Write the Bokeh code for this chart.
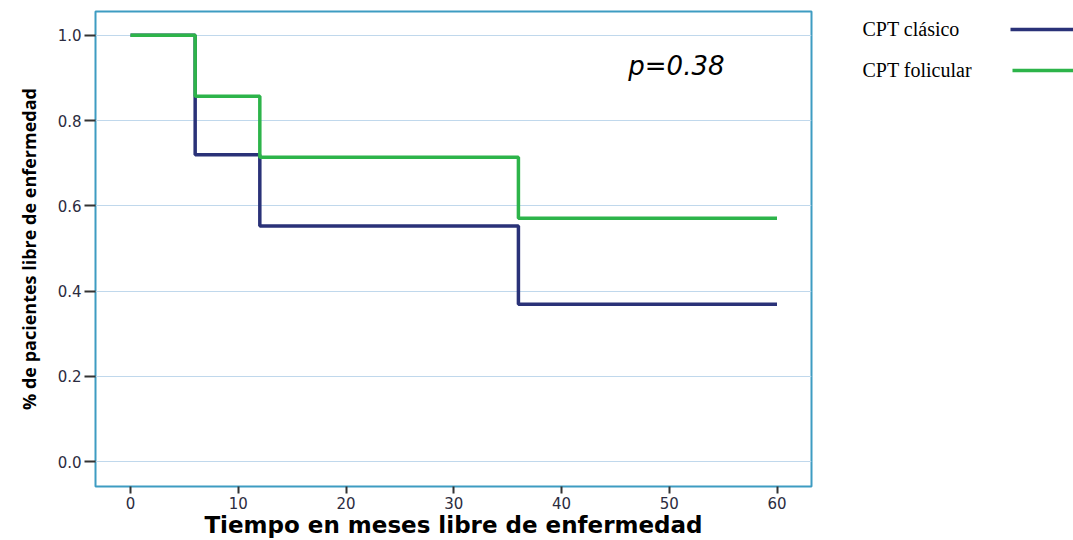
from bokeh.plotting import figure
from bokeh.layouts import row
from bokeh.models import Range1d, FixedTicker, PrintfTickFormatter, Label
from bokeh.core.properties import value
from bokeh.embed import file_html
from bokeh.resources import INLINE

# Data (Kaplan-Meier steps)
months = [0, 6, 12, 36, 60]
clasico = [1.0, 0.72, 0.553, 0.369, 0.369]
folicular = [1.0, 0.857, 0.714, 0.571, 0.571]
series_names = ["CPT clásico", "CPT folicular"]
series_colors = ["#2a3278", "#2db44a"]
x_ticks = [0, 10, 20, 30, 40, 50, 60]
y_ticks = [0.0, 0.2, 0.4, 0.6, 0.8, 1.0]
p_text = "p=0.38"

p = figure(width=818, height=540, output_backend="svg", toolbar_location=None,
           x_range=Range1d(-3.25, 63.2), y_range=Range1d(-0.0585, 1.056),
           min_border_left=95, min_border_right=7, min_border_top=11, min_border_bottom=54)

p.outline_line_color = "#3e9cc2"
p.outline_line_width = 2
p.outline_line_alpha = 1.0

p.xgrid.grid_line_color = None
p.ygrid.grid_line_color = "#c0d8ec"
p.ygrid.grid_line_width = 1
p.ygrid.ticker = FixedTicker(ticks=y_ticks)

p.xaxis.ticker = FixedTicker(ticks=x_ticks)
p.yaxis.ticker = FixedTicker(ticks=y_ticks)
p.yaxis.formatter = PrintfTickFormatter(format="%.1f")

for ax in (p.xaxis, p.yaxis):
    ax.axis_line_color = None
    ax.minor_tick_line_color = None
    ax.major_tick_line_color = "#333333"
    ax.major_tick_line_width = 2
    ax.major_tick_in = 0
    ax.major_label_text_font = "DejaVu Sans"
    ax.major_label_text_font_size = "15px"
    ax.major_label_text_color = "#2c2c40"

p.xaxis.major_tick_out = 7
p.yaxis.major_tick_out = 11
p.xaxis.major_label_standoff = 3
p.yaxis.major_label_standoff = 3

p.xaxis.axis_label = "Tiempo en meses libre de enfermedad"
p.xaxis.axis_label_text_font = "DejaVu Sans"
p.xaxis.axis_label_text_font_style = "bold"
p.xaxis.axis_label_text_font_size = "23px"
p.xaxis.axis_label_text_color = "black"
p.xaxis.axis_label_standoff = 0

p.yaxis.axis_label = "% de pacientes libre de enfermedad"
p.yaxis.axis_label_text_font = "Open Sans"
p.yaxis.axis_label_text_font_style = "bold"
p.yaxis.axis_label_text_font_size = "18px"
p.yaxis.axis_label_text_color = "black"
p.yaxis.axis_label_standoff = 14

p.step(months, clasico, mode="after", line_color=series_colors[0], line_width=3.5)
p.step(months, folicular, mode="after", line_color=series_colors[1], line_width=3.5)

p.add_layout(Label(x=46.2, y=0.927, text=p_text, text_font="DejaVu Sans",
                   text_font_style="italic", text_font_size="26px",
                   text_baseline="middle", text_color="black"))

# Legend panel (ranges in page pixels, frame aligned with the main frame)
lg = figure(width=255, height=540, output_backend="svg", toolbar_location=None,
            x_range=Range1d(0, 255), y_range=Range1d(486, 11),
            x_axis_type=None, y_axis_type=None,
            min_border_left=0, min_border_right=0, min_border_top=11, min_border_bottom=54,
            outline_line_color=None)
lg.grid.visible = False

leg_y = [28, 69]
lg.text(x=[44, 44], y=leg_y, text=series_names, text_font=value("Liberation Serif"),
        text_font_size="20px", text_baseline="middle", text_color="black")
lg.segment(x0=[192, 194], y0=[29, 70], x1=[255, 255], y1=[29, 70],
           line_color=series_colors, line_width=3.5)

layout = row(p, lg)
open("out.html", "w").write(file_html(layout, INLINE))
